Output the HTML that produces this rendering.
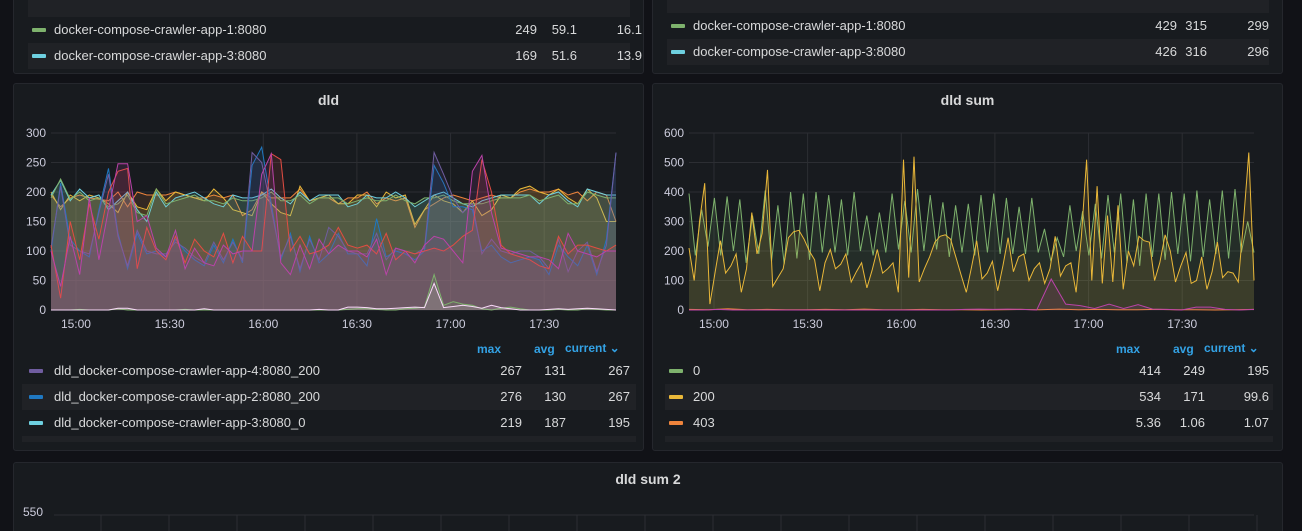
<!DOCTYPE html>
<html><head><meta charset="utf-8">
<style>
html,body{margin:0;width:1302px;height:531px;overflow:hidden}
body{background:#111217;font-family:"Liberation Sans",sans-serif;color:#ccccdc;position:relative}
.panel{position:absolute;background:#181b1f;border:1px solid #25272d;border-radius:3px;box-sizing:border-box;overflow:hidden}
.title{position:absolute;left:0;right:0;text-align:center;font-size:14px;font-weight:bold;color:#d8d9da}
.row{position:absolute;height:26px;font-size:13px;line-height:26px;color:#d8d9da}
.row.alt{background:#202226}
.sw{position:absolute;top:11px;width:14px;height:4px;border-radius:1px}
.nm{position:absolute;left:40px}
.v{position:absolute;text-align:right;width:50px}
.hd{position:absolute;font-size:12px;font-weight:bold;color:#33a2e5}
svg{position:absolute;left:0;top:0}
</style></head><body>
<div class="panel" style="left:13px;top:-4px;width:631px;height:78px">
  <div class="row alt" style="left:14px;top:0;width:602px;height:20px"></div>
  <div class="row" style="left:14px;top:20px;width:602px"><span class="sw" style="left:4px;background:#7eb26d"></span><span class="nm" style="left:26px">docker-compose-crawler-app-1:8080</span><span class="v" style="left:459px">249</span><span class="v" style="left:499px">59.1</span><span class="v" style="left:564px">16.1</span></div>
  <div class="row alt" style="left:14px;top:46px;width:602px"><span class="sw" style="left:4px;background:#6ed0e0"></span><span class="nm" style="left:26px">docker-compose-crawler-app-3:8080</span><span class="v" style="left:459px">169</span><span class="v" style="left:499px">51.6</span><span class="v" style="left:564px">13.9</span></div>
</div>
<div class="panel" style="left:652px;top:-4px;width:631px;height:78px">
  <div class="row alt" style="left:14px;top:0;width:602px;height:16px"></div>
  <div class="row" style="left:14px;top:16px;width:602px"><span class="sw" style="left:4px;background:#7eb26d"></span><span class="nm" style="left:26px">docker-compose-crawler-app-1:8080</span><span class="v" style="left:460px">429</span><span class="v" style="left:490px">315</span><span class="v" style="left:552px">299</span></div>
  <div class="row alt" style="left:14px;top:42px;width:602px"><span class="sw" style="left:4px;background:#6ed0e0"></span><span class="nm" style="left:26px">docker-compose-crawler-app-3:8080</span><span class="v" style="left:460px">426</span><span class="v" style="left:490px">316</span><span class="v" style="left:552px">296</span></div>
</div>

<div class="panel" style="left:13px;top:83px;width:631px;height:368px">
  <div class="title" style="top:8px">dld</div>
  <svg id="c1" width="631" height="368"></svg>
  <div class="hd" style="left:463px;top:258px">max</div>
  <div class="hd" style="left:520px;top:258px">avg</div>
  <div class="hd" style="left:551px;top:257px">current ⌄</div>
  <div class="row" style="left:8px;top:274px;width:614px"><span class="sw" style="left:7px;background:#705da0"></span><span class="nm" style="left:32px">dld_docker-compose-crawler-app-4:8080_200</span><span class="v" style="left:450px">267</span><span class="v" style="left:494px">131</span><span class="v" style="left:558px">267</span></div>
  <div class="row alt" style="left:8px;top:300px;width:614px"><span class="sw" style="left:7px;background:#1f78c1"></span><span class="nm" style="left:32px">dld_docker-compose-crawler-app-2:8080_200</span><span class="v" style="left:450px">276</span><span class="v" style="left:494px">130</span><span class="v" style="left:558px">267</span></div>
  <div class="row" style="left:8px;top:326px;width:614px"><span class="sw" style="left:7px;background:#6ed0e0"></span><span class="nm" style="left:32px">dld_docker-compose-crawler-app-3:8080_0</span><span class="v" style="left:450px">219</span><span class="v" style="left:494px">187</span><span class="v" style="left:558px">195</span></div>
  <div class="row alt" style="left:8px;top:352px;width:614px;height:6px"></div>
</div>

<div class="panel" style="left:652px;top:83px;width:631px;height:368px">
  <div class="title" style="top:8px">dld sum</div>
  <svg id="c2" width="631" height="368"></svg>
  <div class="hd" style="left:463px;top:258px">max</div>
  <div class="hd" style="left:520px;top:258px">avg</div>
  <div class="hd" style="left:551px;top:257px">current ⌄</div>
  <div class="row" style="left:12px;top:274px;width:608px"><span class="sw" style="left:4px;background:#7eb26d"></span><span class="nm" style="left:28px">0</span><span class="v" style="left:446px">414</span><span class="v" style="left:490px">249</span><span class="v" style="left:554px">195</span></div>
  <div class="row alt" style="left:12px;top:300px;width:608px"><span class="sw" style="left:4px;background:#eab839"></span><span class="nm" style="left:28px">200</span><span class="v" style="left:446px">534</span><span class="v" style="left:490px">171</span><span class="v" style="left:554px">99.6</span></div>
  <div class="row" style="left:12px;top:326px;width:608px"><span class="sw" style="left:4px;background:#ef843c"></span><span class="nm" style="left:28px">403</span><span class="v" style="left:446px">5.36</span><span class="v" style="left:490px">1.06</span><span class="v" style="left:554px">1.07</span></div>
  <div class="row alt" style="left:12px;top:352px;width:608px;height:6px"></div>
</div>

<div class="panel" style="left:13px;top:462px;width:1270px;height:80px">
  <div class="title" style="top:8px">dld sum 2</div>
  <div style="position:absolute;left:9px;top:42px;font-size:12px;color:#ccccdc">550</div>
  <svg id="c3" width="1270" height="80"></svg>
</div>

<script>
// ---- chart 1 data (dld) ----
const c1Ticks = [0,50,100,150,200,250,300];
const timeLabels = ["15:00","15:30","16:00","16:30","17:00","17:30"];
const timeTickMin = [8,38,68,98,128,158]; // minutes after 14:52
const c1Orange = [195,175,190,195,190,188,185,200,175,200,195,195,195,200,195,190,190,195,190,195,160,170,200,190,190,190,205,185,190,190,180,190,190,200,180,190,185,190,140,170,180,190,195,190,185,190,195,190,190,200,205,200,200,205,195,200,185,200,195,150];
const c1Yellow = [200,170,195,185,195,190,180,165,200,175,170,205,185,200,195,190,185,205,190,170,165,160,200,180,165,160,210,185,190,195,180,180,195,195,175,200,190,195,145,170,195,185,180,165,185,160,170,195,190,205,210,200,195,205,190,180,205,190,150,150];
const c1Cyan = [195,220,185,205,190,195,170,185,200,170,150,200,175,190,195,200,190,180,175,195,190,190,195,205,190,180,200,185,195,195,195,175,180,195,190,190,200,190,175,185,195,200,190,180,175,185,190,195,195,195,195,180,195,200,185,175,205,200,195,195];
const c1Green = [190,222,188,200,185,190,175,180,195,165,160,205,180,185,190,195,185,185,180,190,185,185,190,200,185,185,195,180,190,190,190,180,185,190,185,185,195,185,180,190,190,195,185,180,180,180,185,190,190,190,195,185,190,195,180,180,200,195,190,190];
const c1Blue = [100,215,120,100,90,170,240,130,70,130,95,100,90,120,100,85,75,110,80,120,80,245,276,180,85,130,65,125,80,95,130,95,95,75,155,90,100,95,85,100,245,215,175,175,170,100,110,90,80,85,90,85,60,110,90,75,110,60,120,267];
const c1Purple = [105,210,110,100,95,165,230,125,75,135,100,95,95,115,105,90,80,115,85,115,85,267,250,170,90,125,70,120,85,140,125,100,95,95,130,85,105,100,95,105,267,230,190,165,180,95,120,100,95,100,100,90,70,120,65,100,115,65,110,267];
const c1Red = [110,20,150,85,180,120,200,235,240,70,140,100,85,125,80,120,100,90,130,80,125,100,100,265,255,100,125,95,100,110,140,110,105,110,95,130,85,100,95,100,105,100,110,125,135,255,200,110,95,90,85,75,70,125,95,110,110,105,100,110];
const c1Magenta = [100,40,125,60,190,85,170,248,248,150,160,105,90,135,70,105,80,75,110,95,100,100,230,265,80,60,110,70,120,95,110,100,100,90,120,60,105,100,80,110,125,120,100,80,235,262,165,105,100,95,90,90,85,70,130,100,95,90,100,100];
const c1SmallGreen = [0,0,0,1,0,0,0,2,0,0,0,0,0,0,1,0,0,0,0,0,0,0,0,0,0,0,0,0,0,0,0,1,2,2,1,0,0,2,3,5,60,8,14,10,8,2,0,3,5,2,0,0,0,1,0,0,2,1,0,0];
const c1SmallPink = [0,0,0,0,0,0,0,3,3,0,0,0,0,0,0,0,2,0,0,0,0,0,0,0,0,0,0,0,1,0,0,5,5,4,2,2,3,4,5,4,45,4,6,8,6,3,8,4,2,0,0,0,1,2,1,2,3,2,1,0];
const c1Series = [
 {name:"orange",vals:c1Orange,color:"#ef843c"},{name:"yellow",vals:c1Yellow,color:"#eab839"},
 {name:"cyan",vals:c1Cyan,color:"#6ed0e0"},{name:"green",vals:c1Green,color:"#7eb26d"},
 {name:"blue",vals:c1Blue,color:"#1f78c1"},{name:"purple",vals:c1Purple,color:"#705da0"},
 {name:"red",vals:c1Red,color:"#e24d42"},{name:"magenta",vals:c1Magenta,color:"#ba43a9"},
 {name:"small-green",vals:c1SmallGreen,color:"#7eb26d"},{name:"small-pink",vals:c1SmallPink,color:"#f9d9f9"}];

// ---- chart 2 data (dld sum) ----
const c2Ticks = [0,100,200,300,400,500,600];
const c2Green = [395,185,340,215,380,185,385,200,375,160,320,190,405,165,355,155,400,175,395,170,400,195,390,195,375,185,400,200,320,185,330,195,395,205,370,195,410,200,390,205,365,180,355,195,360,185,390,195,395,190,380,190,350,190,380,195,275,165,245,180,355,200,335,185,360,175,390,195,395,160,375,150,395,180,395,170,400,190,395,165,405,180,375,190,405,175,410,195,300,195];
const c2Yellow = [210,100,300,430,20,130,235,125,150,190,60,140,330,190,260,475,80,110,140,245,265,270,240,200,170,65,160,205,140,155,190,95,130,160,75,135,205,125,140,160,60,510,110,520,95,140,180,230,250,255,240,180,120,60,145,235,105,125,165,65,150,245,130,180,190,100,140,160,90,140,250,115,150,160,60,250,510,100,420,90,320,95,355,70,200,150,250,235,230,100,160,255,200,95,150,195,90,100,180,70,130,230,110,130,125,95,300,534,100];
const c2Pink = [0,0,2,0,0,0,0,0,0,0,0,0,0,0,0,0,0,0,0,2,3,2,3,2,0,105,20,15,5,20,5,18,3,2,0,10,10,2,0,2];
const c2Orange = [2,1,4,1,2,1,1,2,1,3,1,1,2,1,1,0,1,2,1,3,1,2,1,1,2,1,1,0,1,2];
const c2Series = [
 {name:"0",vals:c2Green,color:"#7eb26d"},{name:"200",vals:c2Yellow,color:"#eab839"},
 {name:"403",vals:c2Orange,color:"#ef843c"},{name:"pink",vals:c2Pink,color:"#ba43a9"}];

const NS="http://www.w3.org/2000/svg";
function mk(svg,tag,attrs){const e=document.createElementNS(NS,tag);for(const k in attrs)e.setAttribute(k,attrs[k]);svg.appendChild(e);return e;}

function drawChart(id,ticks,ymax,series,x0,x1,tickX,op){
  const svg=document.getElementById(id);
  const top=49,bot=226;
  const ys=v=>bot-(v/ymax)*(bot-top);
  const totalMin=181;
  const xt=m=>x0+(m/totalMin)*(x1-x0);
  ticks.forEach(t=>{
    const l=mk(svg,"line",{x1:x0,x2:x1,y1:ys(t),y2:ys(t),stroke:"#2c2e33","stroke-width":1});
    
    
    const tx=mk(svg,"text",{x:tickX,y:ys(t)+4,"text-anchor":"end","font-size":12,fill:"#ccccdc","font-family":"Liberation Sans"});
    tx.textContent=t;
    
    
  });
  timeTickMin.forEach((m,i)=>{
    const l=mk(svg,"line",{x1:xt(m),x2:xt(m),y1:top,y2:bot,stroke:"#2c2e33","stroke-width":1});
    
    
    const tx=mk(svg,"text",{x:xt(m),y:bot+18,"text-anchor":"middle","font-size":12,fill:"#ccccdc","font-family":"Liberation Sans"});
    tx.textContent=timeLabels[i];
    
    
  });
  series.forEach(s=>{
    const n=s.vals.length;
    const pts=s.vals.map((v,i)=>[x0+i*(x1-x0)/(n-1),ys(v)]);
    const d=pts.map((p,i)=>(i?"L":"M")+p[0].toFixed(1)+" "+p[1].toFixed(1)).join("");
    const a=mk(svg,"path",{d:d+"L"+x1+" "+bot+"L"+x0+" "+bot+"Z",fill:s.color,"fill-opacity":op,stroke:"none"});
    
    
    const p=mk(svg,"path",{d:d,fill:"none",stroke:s.color,"stroke-width":1});
    
    
  });
}
drawChart("c1",c1Ticks,300,c1Series,37,602,32,0.13);
drawChart("c2",c2Ticks,600,c2Series,36,601,31,0.12);

const c3=document.getElementById("c3");
for(let x=87;x<1260;x+=68){
  const l=mk(c3,"line",{x1:x,x2:x,y1:52,y2:80,stroke:"#2c2e33","stroke-width":1});
  
  
}
const g=mk(c3,"line",{x1:40,x2:1240,y1:52,y2:52,stroke:"#2c2e33","stroke-width":1});


</script>
</body></html>
